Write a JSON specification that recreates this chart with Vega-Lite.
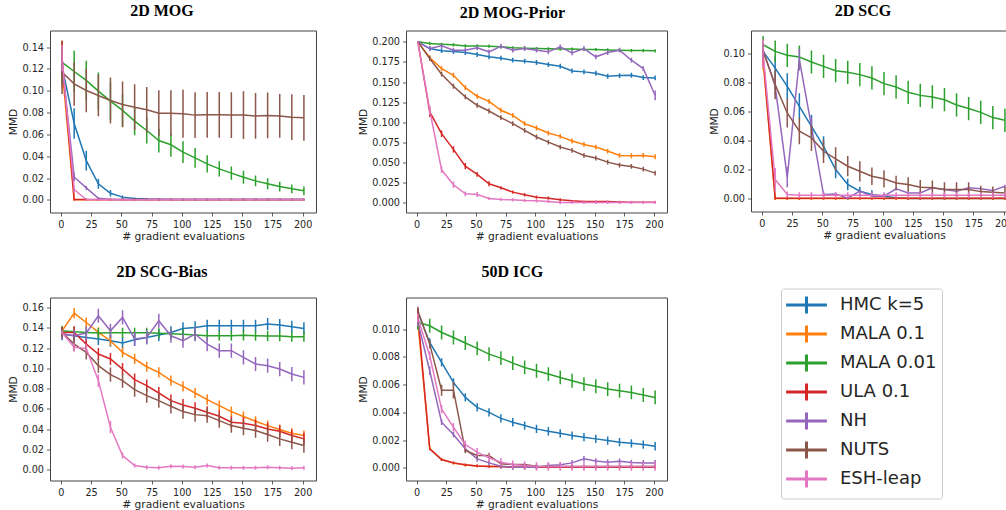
{
"$schema":"https://vega.github.io/schema/vega-lite/v6.json",
"padding":{"left":7,"top":1.5,"right":0,"bottom":0},
"background":"white",
"config":{
 "view":{"stroke":"#444","strokeWidth":1},
 "font":"DejaVu Sans",
 "title":{"font":"Liberation Serif","fontSize":16,"fontWeight":"bold","color":"black","anchor":"middle","frame":"bounds"},
 "axis":{"grid":false,"domain":false,"tickColor":"#333","tickSize":3.5,"tickWidth":0.8,"labelFont":"DejaVu Sans","labelFontSize":9.7,"labelColor":"#262626","labelPadding":3,"titleFont":"DejaVu Sans","titleFontSize":10.7,"titleFontWeight":"normal","titleColor":"#262626","titlePadding":3},
 "legend":{"orient":"none","legendX":731,"legendY":258,"title":null,"direction":"vertical","columns":1,"labelFont":"DejaVu Sans","labelFontSize":18,"labelColor":"#262626","symbolType":"M-2.04,0H2.04M0,-0.84V0.84","symbolSize":400,"symbolStrokeWidth":3,"symbolOffset":9,"labelOffset":22,"rowPadding":0,"padding":5,"strokeColor":"#ccc","fillColor":"white","cornerRadius":3}
},
"datasets":{
"mog":[
{"m":"HMC k=5","x":1,"y":0.122,"e":0.01},{"m":"HMC k=5","x":11,"y":0.07,"e":0.014},{"m":"HMC k=5","x":21,"y":0.036,"e":0.009},{"m":"HMC k=5","x":31,"y":0.0147,"e":0.0046},{"m":"HMC k=5","x":41,"y":0.006,"e":0.003},{"m":"HMC k=5","x":51,"y":0.0025,"e":0.0015},{"m":"HMC k=5","x":61,"y":0.0012,"e":0.001},{"m":"HMC k=5","x":71,"y":0.0007,"e":0.0008},{"m":"HMC k=5","x":81,"y":0.0005,"e":0.0008},{"m":"HMC k=5","x":91,"y":0.0004,"e":0.0008},{"m":"HMC k=5","x":101,"y":0.0003,"e":0.0008},{"m":"HMC k=5","x":111,"y":0.0003,"e":0.0008},{"m":"HMC k=5","x":121,"y":0.0003,"e":0.0008},{"m":"HMC k=5","x":131,"y":0.0003,"e":0.0008},{"m":"HMC k=5","x":141,"y":0.0003,"e":0.0008},{"m":"HMC k=5","x":151,"y":0.0003,"e":0.0008},{"m":"HMC k=5","x":161,"y":0.0003,"e":0.0008},{"m":"HMC k=5","x":171,"y":0.0003,"e":0.0008},{"m":"HMC k=5","x":181,"y":0.0003,"e":0.0008},{"m":"HMC k=5","x":191,"y":0.0003,"e":0.0008},{"m":"HMC k=5","x":201,"y":0.0003,"e":0.0008},
{"m":"MALA 0.1","x":1,"y":0.12,"e":0.018},{"m":"MALA 0.1","x":11,"y":0.0001,"e":0.0005},{"m":"MALA 0.1","x":21,"y":0.0001,"e":0.0005},{"m":"MALA 0.1","x":31,"y":0.0001,"e":0.0005},{"m":"MALA 0.1","x":41,"y":0.0001,"e":0.0005},{"m":"MALA 0.1","x":51,"y":0.0001,"e":0.0005},{"m":"MALA 0.1","x":61,"y":0.0001,"e":0.0005},{"m":"MALA 0.1","x":71,"y":0.0001,"e":0.0005},{"m":"MALA 0.1","x":81,"y":0.0001,"e":0.0005},{"m":"MALA 0.1","x":91,"y":0.0001,"e":0.0005},{"m":"MALA 0.1","x":101,"y":0.0001,"e":0.0005},{"m":"MALA 0.1","x":111,"y":0.0001,"e":0.0005},{"m":"MALA 0.1","x":121,"y":0.0001,"e":0.0005},{"m":"MALA 0.1","x":131,"y":0.0001,"e":0.0005},{"m":"MALA 0.1","x":141,"y":0.0001,"e":0.0005},{"m":"MALA 0.1","x":151,"y":0.0001,"e":0.0005},{"m":"MALA 0.1","x":161,"y":0.0001,"e":0.0005},{"m":"MALA 0.1","x":171,"y":0.0001,"e":0.0005},{"m":"MALA 0.1","x":181,"y":0.0001,"e":0.0005},{"m":"MALA 0.1","x":191,"y":0.0001,"e":0.0005},{"m":"MALA 0.1","x":201,"y":0.0001,"e":0.0005},
{"m":"MALA 0.01","x":1,"y":0.126,"e":0.02},{"m":"MALA 0.01","x":11,"y":0.1177,"e":0.019},{"m":"MALA 0.01","x":21,"y":0.1095,"e":0.018},{"m":"MALA 0.01","x":31,"y":0.0997,"e":0.017},{"m":"MALA 0.01","x":41,"y":0.0905,"e":0.017},{"m":"MALA 0.01","x":51,"y":0.082,"e":0.015},{"m":"MALA 0.01","x":61,"y":0.0722,"e":0.013},{"m":"MALA 0.01","x":71,"y":0.0636,"e":0.012},{"m":"MALA 0.01","x":81,"y":0.0544,"e":0.011},{"m":"MALA 0.01","x":91,"y":0.0505,"e":0.011},{"m":"MALA 0.01","x":101,"y":0.0437,"e":0.01},{"m":"MALA 0.01","x":111,"y":0.0385,"e":0.009},{"m":"MALA 0.01","x":121,"y":0.033,"e":0.008},{"m":"MALA 0.01","x":131,"y":0.0284,"e":0.007},{"m":"MALA 0.01","x":141,"y":0.0245,"e":0.006},{"m":"MALA 0.01","x":151,"y":0.0208,"e":0.006},{"m":"MALA 0.01","x":161,"y":0.0174,"e":0.005},{"m":"MALA 0.01","x":171,"y":0.0147,"e":0.005},{"m":"MALA 0.01","x":181,"y":0.0122,"e":0.0045},{"m":"MALA 0.01","x":191,"y":0.0101,"e":0.004},{"m":"MALA 0.01","x":201,"y":0.0083,"e":0.004},
{"m":"ULA 0.1","x":1,"y":0.13,"e":0.016},{"m":"ULA 0.1","x":11,"y":0.0003,"e":0.001},{"m":"ULA 0.1","x":21,"y":0.0003,"e":0.001},{"m":"ULA 0.1","x":31,"y":0.0003,"e":0.001},{"m":"ULA 0.1","x":41,"y":0.0003,"e":0.001},{"m":"ULA 0.1","x":51,"y":0.0003,"e":0.001},{"m":"ULA 0.1","x":61,"y":0.0003,"e":0.001},{"m":"ULA 0.1","x":71,"y":0.0003,"e":0.001},{"m":"ULA 0.1","x":81,"y":0.0003,"e":0.001},{"m":"ULA 0.1","x":91,"y":0.0003,"e":0.001},{"m":"ULA 0.1","x":101,"y":0.0003,"e":0.001},{"m":"ULA 0.1","x":111,"y":0.0003,"e":0.001},{"m":"ULA 0.1","x":121,"y":0.0003,"e":0.001},{"m":"ULA 0.1","x":131,"y":0.0003,"e":0.001},{"m":"ULA 0.1","x":141,"y":0.0003,"e":0.001},{"m":"ULA 0.1","x":151,"y":0.0003,"e":0.001},{"m":"ULA 0.1","x":161,"y":0.0003,"e":0.001},{"m":"ULA 0.1","x":171,"y":0.0003,"e":0.001},{"m":"ULA 0.1","x":181,"y":0.0003,"e":0.001},{"m":"ULA 0.1","x":191,"y":0.0003,"e":0.001},{"m":"ULA 0.1","x":201,"y":0.0003,"e":0.001},
{"m":"NH","x":1,"y":0.125,"e":0.01},{"m":"NH","x":11,"y":0.021,"e":0.004},{"m":"NH","x":21,"y":0.011,"e":0.002},{"m":"NH","x":31,"y":0.0015,"e":0.001},{"m":"NH","x":41,"y":0.0003,"e":0.0005},{"m":"NH","x":51,"y":0.0003,"e":0.0005},{"m":"NH","x":61,"y":0.0003,"e":0.0005},{"m":"NH","x":71,"y":0.0003,"e":0.0005},{"m":"NH","x":81,"y":0.0003,"e":0.0005},{"m":"NH","x":91,"y":0.0003,"e":0.0005},{"m":"NH","x":101,"y":0.0003,"e":0.0005},{"m":"NH","x":111,"y":0.0003,"e":0.0005},{"m":"NH","x":121,"y":0.0003,"e":0.0005},{"m":"NH","x":131,"y":0.0003,"e":0.0005},{"m":"NH","x":141,"y":0.0003,"e":0.0005},{"m":"NH","x":151,"y":0.0003,"e":0.0005},{"m":"NH","x":161,"y":0.0003,"e":0.0005},{"m":"NH","x":171,"y":0.0003,"e":0.0005},{"m":"NH","x":181,"y":0.0003,"e":0.0005},{"m":"NH","x":191,"y":0.0003,"e":0.0005},{"m":"NH","x":201,"y":0.0003,"e":0.0005},
{"m":"NUTS","x":1,"y":0.117,"e":0.02},{"m":"NUTS","x":11,"y":0.1064,"e":0.02},{"m":"NUTS","x":21,"y":0.1003,"e":0.02},{"m":"NUTS","x":31,"y":0.0957,"e":0.019},{"m":"NUTS","x":41,"y":0.0911,"e":0.021},{"m":"NUTS","x":51,"y":0.0875,"e":0.021},{"m":"NUTS","x":61,"y":0.085,"e":0.021},{"m":"NUTS","x":71,"y":0.0826,"e":0.021},{"m":"NUTS","x":81,"y":0.0795,"e":0.021},{"m":"NUTS","x":91,"y":0.0795,"e":0.021},{"m":"NUTS","x":101,"y":0.0789,"e":0.022},{"m":"NUTS","x":111,"y":0.0777,"e":0.021},{"m":"NUTS","x":121,"y":0.078,"e":0.021},{"m":"NUTS","x":131,"y":0.078,"e":0.021},{"m":"NUTS","x":141,"y":0.0777,"e":0.021},{"m":"NUTS","x":151,"y":0.0777,"e":0.022},{"m":"NUTS","x":161,"y":0.077,"e":0.021},{"m":"NUTS","x":171,"y":0.0774,"e":0.021},{"m":"NUTS","x":181,"y":0.077,"e":0.02},{"m":"NUTS","x":191,"y":0.0758,"e":0.021},{"m":"NUTS","x":201,"y":0.0752,"e":0.021},
{"m":"ESH-leap","x":1,"y":0.13,"e":0.012},{"m":"ESH-leap","x":11,"y":0.0095,"e":0.003},{"m":"ESH-leap","x":21,"y":0.0003,"e":0.001},{"m":"ESH-leap","x":31,"y":0.0001,"e":0.0008},{"m":"ESH-leap","x":41,"y":0.0001,"e":0.0008},{"m":"ESH-leap","x":51,"y":0.0001,"e":0.0008},{"m":"ESH-leap","x":61,"y":0.0001,"e":0.0008},{"m":"ESH-leap","x":71,"y":0.0001,"e":0.0008},{"m":"ESH-leap","x":81,"y":0.0001,"e":0.0008},{"m":"ESH-leap","x":91,"y":0.0001,"e":0.0008},{"m":"ESH-leap","x":101,"y":0.0001,"e":0.0008},{"m":"ESH-leap","x":111,"y":0.0001,"e":0.0008},{"m":"ESH-leap","x":121,"y":0.0001,"e":0.0008},{"m":"ESH-leap","x":131,"y":0.0001,"e":0.0008},{"m":"ESH-leap","x":141,"y":0.0001,"e":0.0008},{"m":"ESH-leap","x":151,"y":0.0001,"e":0.0008},{"m":"ESH-leap","x":161,"y":0.0001,"e":0.0008},{"m":"ESH-leap","x":171,"y":0.0001,"e":0.0008},{"m":"ESH-leap","x":181,"y":0.0001,"e":0.0008},{"m":"ESH-leap","x":191,"y":0.0001,"e":0.0008},{"m":"ESH-leap","x":201,"y":0.0001,"e":0.0008}
],
"prior":[
{"m":"HMC k=5","x":1,"y":0.2,"e":0.001},{"m":"HMC k=5","x":11,"y":0.1917,"e":0.003},{"m":"HMC k=5","x":21,"y":0.189,"e":0.003},{"m":"HMC k=5","x":31,"y":0.188,"e":0.003},{"m":"HMC k=5","x":41,"y":0.1868,"e":0.003},{"m":"HMC k=5","x":51,"y":0.1843,"e":0.003},{"m":"HMC k=5","x":61,"y":0.1814,"e":0.003},{"m":"HMC k=5","x":71,"y":0.1797,"e":0.003},{"m":"HMC k=5","x":81,"y":0.1772,"e":0.003},{"m":"HMC k=5","x":91,"y":0.176,"e":0.003},{"m":"HMC k=5","x":101,"y":0.1743,"e":0.003},{"m":"HMC k=5","x":111,"y":0.1718,"e":0.003},{"m":"HMC k=5","x":121,"y":0.1697,"e":0.003},{"m":"HMC k=5","x":131,"y":0.1639,"e":0.003},{"m":"HMC k=5","x":141,"y":0.1627,"e":0.003},{"m":"HMC k=5","x":151,"y":0.161,"e":0.003},{"m":"HMC k=5","x":161,"y":0.1573,"e":0.003},{"m":"HMC k=5","x":171,"y":0.1581,"e":0.003},{"m":"HMC k=5","x":181,"y":0.1585,"e":0.003},{"m":"HMC k=5","x":191,"y":0.1556,"e":0.003},{"m":"HMC k=5","x":201,"y":0.1552,"e":0.003},
{"m":"MALA 0.1","x":1,"y":0.2,"e":0.001},{"m":"MALA 0.1","x":11,"y":0.1805,"e":0.003},{"m":"MALA 0.1","x":21,"y":0.1668,"e":0.003},{"m":"MALA 0.1","x":31,"y":0.1585,"e":0.003},{"m":"MALA 0.1","x":41,"y":0.1432,"e":0.003},{"m":"MALA 0.1","x":51,"y":0.1324,"e":0.003},{"m":"MALA 0.1","x":61,"y":0.1261,"e":0.003},{"m":"MALA 0.1","x":71,"y":0.115,"e":0.003},{"m":"MALA 0.1","x":81,"y":0.1087,"e":0.003},{"m":"MALA 0.1","x":91,"y":0.0984,"e":0.003},{"m":"MALA 0.1","x":101,"y":0.093,"e":0.003},{"m":"MALA 0.1","x":111,"y":0.0867,"e":0.003},{"m":"MALA 0.1","x":121,"y":0.0826,"e":0.003},{"m":"MALA 0.1","x":131,"y":0.0768,"e":0.003},{"m":"MALA 0.1","x":141,"y":0.0726,"e":0.003},{"m":"MALA 0.1","x":151,"y":0.0693,"e":0.003},{"m":"MALA 0.1","x":161,"y":0.0643,"e":0.003},{"m":"MALA 0.1","x":171,"y":0.0589,"e":0.003},{"m":"MALA 0.1","x":181,"y":0.0585,"e":0.003},{"m":"MALA 0.1","x":191,"y":0.0589,"e":0.003},{"m":"MALA 0.1","x":201,"y":0.0573,"e":0.003},
{"m":"MALA 0.01","x":1,"y":0.2,"e":0.001},{"m":"MALA 0.01","x":11,"y":0.198,"e":0.002},{"m":"MALA 0.01","x":21,"y":0.197,"e":0.002},{"m":"MALA 0.01","x":31,"y":0.1963,"e":0.002},{"m":"MALA 0.01","x":41,"y":0.195,"e":0.002},{"m":"MALA 0.01","x":51,"y":0.195,"e":0.002},{"m":"MALA 0.01","x":61,"y":0.1946,"e":0.002},{"m":"MALA 0.01","x":71,"y":0.1938,"e":0.002},{"m":"MALA 0.01","x":81,"y":0.1926,"e":0.002},{"m":"MALA 0.01","x":91,"y":0.1921,"e":0.002},{"m":"MALA 0.01","x":101,"y":0.1917,"e":0.002},{"m":"MALA 0.01","x":111,"y":0.1913,"e":0.002},{"m":"MALA 0.01","x":121,"y":0.191,"e":0.002},{"m":"MALA 0.01","x":131,"y":0.191,"e":0.002},{"m":"MALA 0.01","x":141,"y":0.1905,"e":0.002},{"m":"MALA 0.01","x":151,"y":0.1905,"e":0.002},{"m":"MALA 0.01","x":161,"y":0.19,"e":0.002},{"m":"MALA 0.01","x":171,"y":0.1897,"e":0.002},{"m":"MALA 0.01","x":181,"y":0.1892,"e":0.002},{"m":"MALA 0.01","x":191,"y":0.1892,"e":0.002},{"m":"MALA 0.01","x":201,"y":0.1888,"e":0.002},
{"m":"ULA 0.1","x":1,"y":0.2,"e":0.001},{"m":"ULA 0.1","x":11,"y":0.1129,"e":0.006},{"m":"ULA 0.1","x":21,"y":0.0859,"e":0.004},{"m":"ULA 0.1","x":31,"y":0.0664,"e":0.004},{"m":"ULA 0.1","x":41,"y":0.0456,"e":0.004},{"m":"ULA 0.1","x":51,"y":0.0353,"e":0.003},{"m":"ULA 0.1","x":61,"y":0.0237,"e":0.003},{"m":"ULA 0.1","x":71,"y":0.0187,"e":0.002},{"m":"ULA 0.1","x":81,"y":0.0133,"e":0.002},{"m":"ULA 0.1","x":91,"y":0.01,"e":0.002},{"m":"ULA 0.1","x":101,"y":0.007,"e":0.002},{"m":"ULA 0.1","x":111,"y":0.0058,"e":0.002},{"m":"ULA 0.1","x":121,"y":0.0037,"e":0.002},{"m":"ULA 0.1","x":131,"y":0.0025,"e":0.001},{"m":"ULA 0.1","x":141,"y":0.0017,"e":0.001},{"m":"ULA 0.1","x":151,"y":0.0017,"e":0.001},{"m":"ULA 0.1","x":161,"y":0.0017,"e":0.001},{"m":"ULA 0.1","x":171,"y":0.0012,"e":0.001},{"m":"ULA 0.1","x":181,"y":0.0008,"e":0.001},{"m":"ULA 0.1","x":191,"y":0.0008,"e":0.001},{"m":"ULA 0.1","x":201,"y":0.0008,"e":0.001},
{"m":"NH","x":1,"y":0.2,"e":0.001},{"m":"NH","x":11,"y":0.1917,"e":0.003},{"m":"NH","x":21,"y":0.195,"e":0.003},{"m":"NH","x":31,"y":0.1897,"e":0.003},{"m":"NH","x":41,"y":0.1897,"e":0.003},{"m":"NH","x":51,"y":0.1926,"e":0.003},{"m":"NH","x":61,"y":0.1876,"e":0.003},{"m":"NH","x":71,"y":0.1946,"e":0.003},{"m":"NH","x":81,"y":0.1897,"e":0.003},{"m":"NH","x":91,"y":0.1917,"e":0.003},{"m":"NH","x":101,"y":0.1897,"e":0.003},{"m":"NH","x":111,"y":0.1876,"e":0.003},{"m":"NH","x":121,"y":0.1938,"e":0.003},{"m":"NH","x":131,"y":0.1863,"e":0.003},{"m":"NH","x":141,"y":0.1917,"e":0.003},{"m":"NH","x":151,"y":0.1814,"e":0.003},{"m":"NH","x":161,"y":0.1868,"e":0.003},{"m":"NH","x":171,"y":0.1897,"e":0.003},{"m":"NH","x":181,"y":0.1772,"e":0.003},{"m":"NH","x":191,"y":0.1668,"e":0.003},{"m":"NH","x":201,"y":0.1336,"e":0.006},
{"m":"NUTS","x":1,"y":0.2,"e":0.001},{"m":"NUTS","x":11,"y":0.1793,"e":0.003},{"m":"NUTS","x":21,"y":0.1598,"e":0.003},{"m":"NUTS","x":31,"y":0.1448,"e":0.003},{"m":"NUTS","x":41,"y":0.1316,"e":0.003},{"m":"NUTS","x":51,"y":0.1212,"e":0.003},{"m":"NUTS","x":61,"y":0.1141,"e":0.003},{"m":"NUTS","x":71,"y":0.1058,"e":0.003},{"m":"NUTS","x":81,"y":0.0984,"e":0.003},{"m":"NUTS","x":91,"y":0.09,"e":0.003},{"m":"NUTS","x":101,"y":0.0818,"e":0.003},{"m":"NUTS","x":111,"y":0.0755,"e":0.003},{"m":"NUTS","x":121,"y":0.0693,"e":0.003},{"m":"NUTS","x":131,"y":0.0652,"e":0.003},{"m":"NUTS","x":141,"y":0.0589,"e":0.003},{"m":"NUTS","x":151,"y":0.0556,"e":0.003},{"m":"NUTS","x":161,"y":0.0506,"e":0.003},{"m":"NUTS","x":171,"y":0.0469,"e":0.003},{"m":"NUTS","x":181,"y":0.0452,"e":0.003},{"m":"NUTS","x":191,"y":0.0419,"e":0.003},{"m":"NUTS","x":201,"y":0.0369,"e":0.003},
{"m":"ESH-leap","x":1,"y":0.2,"e":0.001},{"m":"ESH-leap","x":11,"y":0.115,"e":0.006},{"m":"ESH-leap","x":21,"y":0.041,"e":0.004},{"m":"ESH-leap","x":31,"y":0.0224,"e":0.004},{"m":"ESH-leap","x":41,"y":0.0112,"e":0.003},{"m":"ESH-leap","x":51,"y":0.0104,"e":0.003},{"m":"ESH-leap","x":61,"y":0.0054,"e":0.002},{"m":"ESH-leap","x":71,"y":0.0042,"e":0.002},{"m":"ESH-leap","x":81,"y":0.0037,"e":0.002},{"m":"ESH-leap","x":91,"y":0.0029,"e":0.002},{"m":"ESH-leap","x":101,"y":0.0025,"e":0.002},{"m":"ESH-leap","x":111,"y":0.0017,"e":0.002},{"m":"ESH-leap","x":121,"y":0.0004,"e":0.002},{"m":"ESH-leap","x":131,"y":0.0005,"e":0.002},{"m":"ESH-leap","x":141,"y":0.0005,"e":0.002},{"m":"ESH-leap","x":151,"y":0.0005,"e":0.002},{"m":"ESH-leap","x":161,"y":0.0005,"e":0.002},{"m":"ESH-leap","x":171,"y":0.0005,"e":0.002},{"m":"ESH-leap","x":181,"y":0.0005,"e":0.002},{"m":"ESH-leap","x":191,"y":0.0005,"e":0.002},{"m":"ESH-leap","x":201,"y":0.0005,"e":0.002}
],
"scg":[
{"m":"HMC k=5","x":1,"y":0.1016,"e":0.005},{"m":"HMC k=5","x":11,"y":0.0901,"e":0.008},{"m":"HMC k=5","x":21,"y":0.0775,"e":0.009},{"m":"HMC k=5","x":31,"y":0.0638,"e":0.009},{"m":"HMC k=5","x":41,"y":0.05,"e":0.008},{"m":"HMC k=5","x":51,"y":0.0362,"e":0.007},{"m":"HMC k=5","x":61,"y":0.0202,"e":0.006},{"m":"HMC k=5","x":71,"y":0.0099,"e":0.004},{"m":"HMC k=5","x":81,"y":0.0053,"e":0.003},{"m":"HMC k=5","x":91,"y":0.003,"e":0.003},{"m":"HMC k=5","x":101,"y":0.0018,"e":0.002},{"m":"HMC k=5","x":111,"y":0.0007,"e":0.001},{"m":"HMC k=5","x":121,"y":0.0003,"e":0.001},{"m":"HMC k=5","x":131,"y":0.0003,"e":0.001},{"m":"HMC k=5","x":141,"y":0.0003,"e":0.001},{"m":"HMC k=5","x":151,"y":0.0003,"e":0.001},{"m":"HMC k=5","x":161,"y":0.0003,"e":0.001},{"m":"HMC k=5","x":171,"y":0.0003,"e":0.001},{"m":"HMC k=5","x":181,"y":0.0003,"e":0.001},{"m":"HMC k=5","x":191,"y":0.0003,"e":0.001},{"m":"HMC k=5","x":201,"y":0.0003,"e":0.001},
{"m":"MALA 0.1","x":1,"y":0.095,"e":0.006},{"m":"MALA 0.1","x":11,"y":0.0003,"e":0.001},{"m":"MALA 0.1","x":21,"y":0.0003,"e":0.001},{"m":"MALA 0.1","x":31,"y":0.0003,"e":0.001},{"m":"MALA 0.1","x":41,"y":0.0003,"e":0.001},{"m":"MALA 0.1","x":51,"y":0.0003,"e":0.001},{"m":"MALA 0.1","x":61,"y":0.0003,"e":0.001},{"m":"MALA 0.1","x":71,"y":0.0003,"e":0.001},{"m":"MALA 0.1","x":81,"y":0.0003,"e":0.001},{"m":"MALA 0.1","x":91,"y":0.0003,"e":0.001},{"m":"MALA 0.1","x":101,"y":0.0003,"e":0.001},{"m":"MALA 0.1","x":111,"y":0.0003,"e":0.001},{"m":"MALA 0.1","x":121,"y":0.0003,"e":0.001},{"m":"MALA 0.1","x":131,"y":0.0003,"e":0.001},{"m":"MALA 0.1","x":141,"y":0.0003,"e":0.001},{"m":"MALA 0.1","x":151,"y":0.0003,"e":0.001},{"m":"MALA 0.1","x":161,"y":0.0003,"e":0.001},{"m":"MALA 0.1","x":171,"y":0.0003,"e":0.001},{"m":"MALA 0.1","x":181,"y":0.0003,"e":0.001},{"m":"MALA 0.1","x":191,"y":0.0003,"e":0.001},{"m":"MALA 0.1","x":201,"y":0.0003,"e":0.001},
{"m":"MALA 0.01","x":1,"y":0.1062,"e":0.006},{"m":"MALA 0.01","x":11,"y":0.1016,"e":0.0075},{"m":"MALA 0.01","x":21,"y":0.0989,"e":0.008},{"m":"MALA 0.01","x":31,"y":0.0977,"e":0.008},{"m":"MALA 0.01","x":41,"y":0.0943,"e":0.008},{"m":"MALA 0.01","x":51,"y":0.0913,"e":0.008},{"m":"MALA 0.01","x":61,"y":0.0883,"e":0.008},{"m":"MALA 0.01","x":71,"y":0.0872,"e":0.008},{"m":"MALA 0.01","x":81,"y":0.0856,"e":0.008},{"m":"MALA 0.01","x":91,"y":0.0833,"e":0.008},{"m":"MALA 0.01","x":101,"y":0.0794,"e":0.008},{"m":"MALA 0.01","x":111,"y":0.0771,"e":0.008},{"m":"MALA 0.01","x":121,"y":0.0734,"e":0.008},{"m":"MALA 0.01","x":131,"y":0.0713,"e":0.008},{"m":"MALA 0.01","x":141,"y":0.0702,"e":0.008},{"m":"MALA 0.01","x":151,"y":0.0683,"e":0.008},{"m":"MALA 0.01","x":161,"y":0.0647,"e":0.008},{"m":"MALA 0.01","x":171,"y":0.0622,"e":0.008},{"m":"MALA 0.01","x":181,"y":0.0596,"e":0.008},{"m":"MALA 0.01","x":191,"y":0.056,"e":0.008},{"m":"MALA 0.01","x":201,"y":0.0541,"e":0.008},
{"m":"ULA 0.1","x":1,"y":0.098,"e":0.006},{"m":"ULA 0.1","x":11,"y":0.0005,"e":0.001},{"m":"ULA 0.1","x":21,"y":0.0005,"e":0.001},{"m":"ULA 0.1","x":31,"y":0.0005,"e":0.001},{"m":"ULA 0.1","x":41,"y":0.0005,"e":0.001},{"m":"ULA 0.1","x":51,"y":0.0005,"e":0.001},{"m":"ULA 0.1","x":61,"y":0.0005,"e":0.001},{"m":"ULA 0.1","x":71,"y":0.0005,"e":0.001},{"m":"ULA 0.1","x":81,"y":0.0005,"e":0.001},{"m":"ULA 0.1","x":91,"y":0.0005,"e":0.001},{"m":"ULA 0.1","x":101,"y":0.0005,"e":0.001},{"m":"ULA 0.1","x":111,"y":0.0005,"e":0.001},{"m":"ULA 0.1","x":121,"y":0.0005,"e":0.001},{"m":"ULA 0.1","x":131,"y":0.0005,"e":0.001},{"m":"ULA 0.1","x":141,"y":0.0005,"e":0.001},{"m":"ULA 0.1","x":151,"y":0.0005,"e":0.001},{"m":"ULA 0.1","x":161,"y":0.0005,"e":0.001},{"m":"ULA 0.1","x":171,"y":0.0005,"e":0.001},{"m":"ULA 0.1","x":181,"y":0.0005,"e":0.001},{"m":"ULA 0.1","x":191,"y":0.0005,"e":0.001},{"m":"ULA 0.1","x":201,"y":0.0005,"e":0.001},
{"m":"NH","x":1,"y":0.103,"e":0.005},{"m":"NH","x":11,"y":0.0775,"e":0.006},{"m":"NH","x":21,"y":0.015,"e":0.007},{"m":"NH","x":31,"y":0.096,"e":0.0075},{"m":"NH","x":41,"y":0.05,"e":0.006},{"m":"NH","x":51,"y":0.003,"e":0.002},{"m":"NH","x":61,"y":0.0034,"e":0.001},{"m":"NH","x":71,"y":0.0005,"e":0.001},{"m":"NH","x":81,"y":0.0053,"e":0.001},{"m":"NH","x":91,"y":0.0018,"e":0.001},{"m":"NH","x":101,"y":0.0018,"e":0.001},{"m":"NH","x":111,"y":0.0069,"e":0.001},{"m":"NH","x":121,"y":0.0041,"e":0.001},{"m":"NH","x":131,"y":0.0041,"e":0.001},{"m":"NH","x":141,"y":0.0076,"e":0.001},{"m":"NH","x":151,"y":0.0064,"e":0.001},{"m":"NH","x":161,"y":0.0053,"e":0.001},{"m":"NH","x":171,"y":0.0076,"e":0.001},{"m":"NH","x":181,"y":0.0069,"e":0.001},{"m":"NH","x":191,"y":0.0057,"e":0.001},{"m":"NH","x":201,"y":0.0087,"e":0.001},
{"m":"NUTS","x":1,"y":0.1016,"e":0.005},{"m":"NUTS","x":11,"y":0.0787,"e":0.01},{"m":"NUTS","x":21,"y":0.0592,"e":0.01},{"m":"NUTS","x":31,"y":0.0466,"e":0.009},{"m":"NUTS","x":41,"y":0.042,"e":0.009},{"m":"NUTS","x":51,"y":0.0328,"e":0.008},{"m":"NUTS","x":61,"y":0.0275,"e":0.008},{"m":"NUTS","x":71,"y":0.0225,"e":0.007},{"m":"NUTS","x":81,"y":0.019,"e":0.007},{"m":"NUTS","x":91,"y":0.0156,"e":0.006},{"m":"NUTS","x":101,"y":0.0138,"e":0.006},{"m":"NUTS","x":111,"y":0.011,"e":0.005},{"m":"NUTS","x":121,"y":0.0099,"e":0.005},{"m":"NUTS","x":131,"y":0.008,"e":0.005},{"m":"NUTS","x":141,"y":0.0076,"e":0.005},{"m":"NUTS","x":151,"y":0.0064,"e":0.005},{"m":"NUTS","x":161,"y":0.0064,"e":0.005},{"m":"NUTS","x":171,"y":0.0064,"e":0.005},{"m":"NUTS","x":181,"y":0.005,"e":0.004},{"m":"NUTS","x":191,"y":0.0046,"e":0.004},{"m":"NUTS","x":201,"y":0.0041,"e":0.004},
{"m":"ESH-leap","x":1,"y":0.1,"e":0.01},{"m":"ESH-leap","x":11,"y":0.0133,"e":0.008},{"m":"ESH-leap","x":21,"y":0.003,"e":0.002},{"m":"ESH-leap","x":31,"y":0.0025,"e":0.002},{"m":"ESH-leap","x":41,"y":0.0025,"e":0.002},{"m":"ESH-leap","x":51,"y":0.0025,"e":0.002},{"m":"ESH-leap","x":61,"y":0.0025,"e":0.002},{"m":"ESH-leap","x":71,"y":0.0025,"e":0.002},{"m":"ESH-leap","x":81,"y":0.0025,"e":0.002},{"m":"ESH-leap","x":91,"y":0.0025,"e":0.002},{"m":"ESH-leap","x":101,"y":0.0025,"e":0.002},{"m":"ESH-leap","x":111,"y":0.0025,"e":0.002},{"m":"ESH-leap","x":121,"y":0.0025,"e":0.002},{"m":"ESH-leap","x":131,"y":0.0025,"e":0.002},{"m":"ESH-leap","x":141,"y":0.0025,"e":0.002},{"m":"ESH-leap","x":151,"y":0.0025,"e":0.002},{"m":"ESH-leap","x":161,"y":0.0025,"e":0.002},{"m":"ESH-leap","x":171,"y":0.0025,"e":0.002},{"m":"ESH-leap","x":181,"y":0.0025,"e":0.002},{"m":"ESH-leap","x":191,"y":0.0025,"e":0.002},{"m":"ESH-leap","x":201,"y":0.0025,"e":0.002}
],
"bias":[
{"m":"HMC k=5","x":1,"y":0.1338,"e":0.006},{"m":"HMC k=5","x":11,"y":0.1321,"e":0.006},{"m":"HMC k=5","x":21,"y":0.1305,"e":0.006},{"m":"HMC k=5","x":31,"y":0.1289,"e":0.006},{"m":"HMC k=5","x":41,"y":0.1272,"e":0.006},{"m":"HMC k=5","x":51,"y":0.1249,"e":0.006},{"m":"HMC k=5","x":61,"y":0.1282,"e":0.006},{"m":"HMC k=5","x":71,"y":0.1305,"e":0.006},{"m":"HMC k=5","x":81,"y":0.1328,"e":0.006},{"m":"HMC k=5","x":91,"y":0.1354,"e":0.006},{"m":"HMC k=5","x":101,"y":0.1393,"e":0.006},{"m":"HMC k=5","x":111,"y":0.1403,"e":0.006},{"m":"HMC k=5","x":121,"y":0.142,"e":0.006},{"m":"HMC k=5","x":131,"y":0.142,"e":0.006},{"m":"HMC k=5","x":141,"y":0.142,"e":0.006},{"m":"HMC k=5","x":151,"y":0.142,"e":0.006},{"m":"HMC k=5","x":161,"y":0.142,"e":0.006},{"m":"HMC k=5","x":171,"y":0.1436,"e":0.006},{"m":"HMC k=5","x":181,"y":0.1426,"e":0.006},{"m":"HMC k=5","x":191,"y":0.141,"e":0.006},{"m":"HMC k=5","x":201,"y":0.1393,"e":0.006},
{"m":"MALA 0.1","x":1,"y":0.137,"e":0.004},{"m":"MALA 0.1","x":11,"y":0.1544,"e":0.005},{"m":"MALA 0.1","x":21,"y":0.1452,"e":0.005},{"m":"MALA 0.1","x":31,"y":0.1354,"e":0.005},{"m":"MALA 0.1","x":41,"y":0.1272,"e":0.005},{"m":"MALA 0.1","x":51,"y":0.1157,"e":0.005},{"m":"MALA 0.1","x":61,"y":0.1092,"e":0.005},{"m":"MALA 0.1","x":71,"y":0.1016,"e":0.005},{"m":"MALA 0.1","x":81,"y":0.0961,"e":0.005},{"m":"MALA 0.1","x":91,"y":0.0879,"e":0.005},{"m":"MALA 0.1","x":101,"y":0.0823,"e":0.005},{"m":"MALA 0.1","x":111,"y":0.0757,"e":0.005},{"m":"MALA 0.1","x":121,"y":0.0692,"e":0.005},{"m":"MALA 0.1","x":131,"y":0.0633,"e":0.005},{"m":"MALA 0.1","x":141,"y":0.0574,"e":0.005},{"m":"MALA 0.1","x":151,"y":0.0525,"e":0.005},{"m":"MALA 0.1","x":161,"y":0.0479,"e":0.005},{"m":"MALA 0.1","x":171,"y":0.0436,"e":0.005},{"m":"MALA 0.1","x":181,"y":0.0397,"e":0.005},{"m":"MALA 0.1","x":191,"y":0.0361,"e":0.005},{"m":"MALA 0.1","x":201,"y":0.0338,"e":0.005},
{"m":"MALA 0.01","x":1,"y":0.137,"e":0.005},{"m":"MALA 0.01","x":11,"y":0.136,"e":0.005},{"m":"MALA 0.01","x":21,"y":0.1354,"e":0.005},{"m":"MALA 0.01","x":31,"y":0.1348,"e":0.005},{"m":"MALA 0.01","x":41,"y":0.135,"e":0.005},{"m":"MALA 0.01","x":51,"y":0.135,"e":0.005},{"m":"MALA 0.01","x":61,"y":0.135,"e":0.005},{"m":"MALA 0.01","x":71,"y":0.135,"e":0.005},{"m":"MALA 0.01","x":81,"y":0.1345,"e":0.005},{"m":"MALA 0.01","x":91,"y":0.1341,"e":0.005},{"m":"MALA 0.01","x":101,"y":0.1335,"e":0.005},{"m":"MALA 0.01","x":111,"y":0.1328,"e":0.005},{"m":"MALA 0.01","x":121,"y":0.1321,"e":0.005},{"m":"MALA 0.01","x":131,"y":0.1321,"e":0.005},{"m":"MALA 0.01","x":141,"y":0.1321,"e":0.005},{"m":"MALA 0.01","x":151,"y":0.1325,"e":0.005},{"m":"MALA 0.01","x":161,"y":0.1321,"e":0.005},{"m":"MALA 0.01","x":171,"y":0.1318,"e":0.005},{"m":"MALA 0.01","x":181,"y":0.1318,"e":0.005},{"m":"MALA 0.01","x":191,"y":0.1311,"e":0.005},{"m":"MALA 0.01","x":201,"y":0.1311,"e":0.005},
{"m":"ULA 0.1","x":1,"y":0.1354,"e":0.005},{"m":"ULA 0.1","x":11,"y":0.1354,"e":0.006},{"m":"ULA 0.1","x":21,"y":0.1239,"e":0.006},{"m":"ULA 0.1","x":31,"y":0.1141,"e":0.006},{"m":"ULA 0.1","x":41,"y":0.1092,"e":0.006},{"m":"ULA 0.1","x":51,"y":0.0993,"e":0.006},{"m":"ULA 0.1","x":61,"y":0.0889,"e":0.006},{"m":"ULA 0.1","x":71,"y":0.083,"e":0.006},{"m":"ULA 0.1","x":81,"y":0.0757,"e":0.006},{"m":"ULA 0.1","x":91,"y":0.0682,"e":0.006},{"m":"ULA 0.1","x":101,"y":0.0639,"e":0.006},{"m":"ULA 0.1","x":111,"y":0.0607,"e":0.006},{"m":"ULA 0.1","x":121,"y":0.0567,"e":0.006},{"m":"ULA 0.1","x":131,"y":0.0528,"e":0.006},{"m":"ULA 0.1","x":141,"y":0.0469,"e":0.006},{"m":"ULA 0.1","x":151,"y":0.0459,"e":0.006},{"m":"ULA 0.1","x":161,"y":0.0436,"e":0.006},{"m":"ULA 0.1","x":171,"y":0.0403,"e":0.006},{"m":"ULA 0.1","x":181,"y":0.038,"e":0.006},{"m":"ULA 0.1","x":191,"y":0.0338,"e":0.006},{"m":"ULA 0.1","x":201,"y":0.0305,"e":0.006},
{"m":"NH","x":1,"y":0.1338,"e":0.005},{"m":"NH","x":11,"y":0.1321,"e":0.006},{"m":"NH","x":21,"y":0.1348,"e":0.007},{"m":"NH","x":31,"y":0.1518,"e":0.007},{"m":"NH","x":41,"y":0.137,"e":0.007},{"m":"NH","x":51,"y":0.1502,"e":0.007},{"m":"NH","x":61,"y":0.1289,"e":0.007},{"m":"NH","x":71,"y":0.1305,"e":0.007},{"m":"NH","x":81,"y":0.1469,"e":0.007},{"m":"NH","x":91,"y":0.1321,"e":0.007},{"m":"NH","x":101,"y":0.1272,"e":0.007},{"m":"NH","x":111,"y":0.1338,"e":0.007},{"m":"NH","x":121,"y":0.1239,"e":0.007},{"m":"NH","x":131,"y":0.1174,"e":0.007},{"m":"NH","x":141,"y":0.1174,"e":0.007},{"m":"NH","x":151,"y":0.1108,"e":0.007},{"m":"NH","x":161,"y":0.1043,"e":0.007},{"m":"NH","x":171,"y":0.1026,"e":0.007},{"m":"NH","x":181,"y":0.0993,"e":0.007},{"m":"NH","x":191,"y":0.0944,"e":0.007},{"m":"NH","x":201,"y":0.0911,"e":0.007},
{"m":"NUTS","x":1,"y":0.1354,"e":0.005},{"m":"NUTS","x":11,"y":0.1239,"e":0.007},{"m":"NUTS","x":21,"y":0.1157,"e":0.007},{"m":"NUTS","x":31,"y":0.1026,"e":0.007},{"m":"NUTS","x":41,"y":0.0938,"e":0.007},{"m":"NUTS","x":51,"y":0.0879,"e":0.007},{"m":"NUTS","x":61,"y":0.079,"e":0.007},{"m":"NUTS","x":71,"y":0.0731,"e":0.007},{"m":"NUTS","x":81,"y":0.0682,"e":0.007},{"m":"NUTS","x":91,"y":0.0626,"e":0.007},{"m":"NUTS","x":101,"y":0.0574,"e":0.007},{"m":"NUTS","x":111,"y":0.0544,"e":0.007},{"m":"NUTS","x":121,"y":0.0534,"e":0.007},{"m":"NUTS","x":131,"y":0.0485,"e":0.007},{"m":"NUTS","x":141,"y":0.0436,"e":0.007},{"m":"NUTS","x":151,"y":0.041,"e":0.007},{"m":"NUTS","x":161,"y":0.0387,"e":0.007},{"m":"NUTS","x":171,"y":0.0348,"e":0.007},{"m":"NUTS","x":181,"y":0.0305,"e":0.007},{"m":"NUTS","x":191,"y":0.0272,"e":0.007},{"m":"NUTS","x":201,"y":0.0239,"e":0.007},
{"m":"ESH-leap","x":1,"y":0.1354,"e":0.002},{"m":"ESH-leap","x":11,"y":0.1207,"e":0.004},{"m":"ESH-leap","x":21,"y":0.1197,"e":0.004},{"m":"ESH-leap","x":31,"y":0.0879,"e":0.006},{"m":"ESH-leap","x":41,"y":0.042,"e":0.006},{"m":"ESH-leap","x":51,"y":0.0141,"e":0.003},{"m":"ESH-leap","x":61,"y":0.0043,"e":0.002},{"m":"ESH-leap","x":71,"y":0.0026,"e":0.002},{"m":"ESH-leap","x":81,"y":0.002,"e":0.002},{"m":"ESH-leap","x":91,"y":0.0036,"e":0.002},{"m":"ESH-leap","x":101,"y":0.0033,"e":0.002},{"m":"ESH-leap","x":111,"y":0.0026,"e":0.002},{"m":"ESH-leap","x":121,"y":0.0043,"e":0.002},{"m":"ESH-leap","x":131,"y":0.002,"e":0.002},{"m":"ESH-leap","x":141,"y":0.002,"e":0.002},{"m":"ESH-leap","x":151,"y":0.002,"e":0.002},{"m":"ESH-leap","x":161,"y":0.002,"e":0.002},{"m":"ESH-leap","x":171,"y":0.0026,"e":0.002},{"m":"ESH-leap","x":181,"y":0.002,"e":0.002},{"m":"ESH-leap","x":191,"y":0.0016,"e":0.002},{"m":"ESH-leap","x":201,"y":0.002,"e":0.002}
],
"icg":[
{"m":"HMC k=5","x":1,"y":0.0112,"e":0.0003},{"m":"HMC k=5","x":11,"y":0.00904,"e":0.0003},{"m":"HMC k=5","x":21,"y":0.0076,"e":0.0003},{"m":"HMC k=5","x":31,"y":0.00616,"e":0.0003},{"m":"HMC k=5","x":41,"y":0.00508,"e":0.0003},{"m":"HMC k=5","x":51,"y":0.00436,"e":0.0003},{"m":"HMC k=5","x":61,"y":0.004,"e":0.0003},{"m":"HMC k=5","x":71,"y":0.00357,"e":0.0003},{"m":"HMC k=5","x":81,"y":0.00329,"e":0.0003},{"m":"HMC k=5","x":91,"y":0.00305,"e":0.0003},{"m":"HMC k=5","x":101,"y":0.00281,"e":0.0003},{"m":"HMC k=5","x":111,"y":0.00264,"e":0.0003},{"m":"HMC k=5","x":121,"y":0.00249,"e":0.0003},{"m":"HMC k=5","x":131,"y":0.00233,"e":0.0003},{"m":"HMC k=5","x":141,"y":0.00221,"e":0.0003},{"m":"HMC k=5","x":151,"y":0.00209,"e":0.0003},{"m":"HMC k=5","x":161,"y":0.00197,"e":0.0003},{"m":"HMC k=5","x":171,"y":0.00185,"e":0.0003},{"m":"HMC k=5","x":181,"y":0.00177,"e":0.0003},{"m":"HMC k=5","x":191,"y":0.00168,"e":0.0003},{"m":"HMC k=5","x":201,"y":0.00156,"e":0.0003},
{"m":"MALA 0.1","x":1,"y":0.0105,"e":0.0005},{"m":"MALA 0.1","x":11,"y":0.0014,"e":0.0001},{"m":"MALA 0.1","x":21,"y":0.0006,"e":0.0001},{"m":"MALA 0.1","x":31,"y":0.00035,"e":0.0001},{"m":"MALA 0.1","x":41,"y":0.0002,"e":0.0001},{"m":"MALA 0.1","x":51,"y":0.00014,"e":0.0001},{"m":"MALA 0.1","x":61,"y":0.0001,"e":0.0001},{"m":"MALA 0.1","x":71,"y":0.0001,"e":0.0001},{"m":"MALA 0.1","x":81,"y":0.00005,"e":0.0001},{"m":"MALA 0.1","x":91,"y":0.00005,"e":0.0001},{"m":"MALA 0.1","x":101,"y":0.00005,"e":0.0001},{"m":"MALA 0.1","x":111,"y":0.00005,"e":0.0001},{"m":"MALA 0.1","x":121,"y":0.00005,"e":0.0001},{"m":"MALA 0.1","x":131,"y":0.00005,"e":0.0001},{"m":"MALA 0.1","x":141,"y":0.00005,"e":0.0001},{"m":"MALA 0.1","x":151,"y":0.00005,"e":0.0001},{"m":"MALA 0.1","x":161,"y":0.00005,"e":0.0001},{"m":"MALA 0.1","x":171,"y":0.00005,"e":0.0001},{"m":"MALA 0.1","x":181,"y":0.00005,"e":0.0001},{"m":"MALA 0.1","x":191,"y":0.00005,"e":0.0001},{"m":"MALA 0.1","x":201,"y":0.00005,"e":0.0001},
{"m":"MALA 0.01","x":1,"y":0.01048,"e":0.0005},{"m":"MALA 0.01","x":11,"y":0.01024,"e":0.0005},{"m":"MALA 0.01","x":21,"y":0.00976,"e":0.0005},{"m":"MALA 0.01","x":31,"y":0.0094,"e":0.0005},{"m":"MALA 0.01","x":41,"y":0.009,"e":0.0005},{"m":"MALA 0.01","x":51,"y":0.00861,"e":0.0005},{"m":"MALA 0.01","x":61,"y":0.0082,"e":0.0005},{"m":"MALA 0.01","x":71,"y":0.00791,"e":0.0005},{"m":"MALA 0.01","x":81,"y":0.00755,"e":0.0005},{"m":"MALA 0.01","x":91,"y":0.00724,"e":0.0005},{"m":"MALA 0.01","x":101,"y":0.007,"e":0.0005},{"m":"MALA 0.01","x":111,"y":0.00676,"e":0.0005},{"m":"MALA 0.01","x":121,"y":0.00652,"e":0.0005},{"m":"MALA 0.01","x":131,"y":0.00628,"e":0.0005},{"m":"MALA 0.01","x":141,"y":0.00604,"e":0.0005},{"m":"MALA 0.01","x":151,"y":0.00588,"e":0.0005},{"m":"MALA 0.01","x":161,"y":0.00568,"e":0.0005},{"m":"MALA 0.01","x":171,"y":0.00556,"e":0.0005},{"m":"MALA 0.01","x":181,"y":0.00544,"e":0.0005},{"m":"MALA 0.01","x":191,"y":0.00525,"e":0.0005},{"m":"MALA 0.01","x":201,"y":0.00508,"e":0.0005},
{"m":"ULA 0.1","x":1,"y":0.011,"e":0.0005},{"m":"ULA 0.1","x":11,"y":0.00137,"e":0.0001},{"m":"ULA 0.1","x":21,"y":0.0006,"e":0.0001},{"m":"ULA 0.1","x":31,"y":0.00036,"e":0.0001},{"m":"ULA 0.1","x":41,"y":0.00022,"e":0.0001},{"m":"ULA 0.1","x":51,"y":0.00014,"e":0.0001},{"m":"ULA 0.1","x":61,"y":0.0001,"e":0.0001},{"m":"ULA 0.1","x":71,"y":0.0001,"e":0.0001},{"m":"ULA 0.1","x":81,"y":0.00005,"e":0.0001},{"m":"ULA 0.1","x":91,"y":0.00005,"e":0.0001},{"m":"ULA 0.1","x":101,"y":0.00005,"e":0.0001},{"m":"ULA 0.1","x":111,"y":0.00005,"e":0.0001},{"m":"ULA 0.1","x":121,"y":0.00005,"e":0.0001},{"m":"ULA 0.1","x":131,"y":0.00005,"e":0.0001},{"m":"ULA 0.1","x":141,"y":0.00005,"e":0.0001},{"m":"ULA 0.1","x":151,"y":0.00005,"e":0.0001},{"m":"ULA 0.1","x":161,"y":0.00005,"e":0.0001},{"m":"ULA 0.1","x":171,"y":0.00005,"e":0.0001},{"m":"ULA 0.1","x":181,"y":0.00005,"e":0.0001},{"m":"ULA 0.1","x":191,"y":0.00005,"e":0.0001},{"m":"ULA 0.1","x":201,"y":0.00005,"e":0.0001},
{"m":"NH","x":1,"y":0.0105,"e":0.0003},{"m":"NH","x":11,"y":0.007,"e":0.0003},{"m":"NH","x":21,"y":0.00329,"e":0.0002},{"m":"NH","x":31,"y":0.0024,"e":0.0002},{"m":"NH","x":41,"y":0.00137,"e":0.0002},{"m":"NH","x":51,"y":0.00065,"e":0.0002},{"m":"NH","x":61,"y":0.00036,"e":0.0002},{"m":"NH","x":71,"y":0.00012,"e":0.0002},{"m":"NH","x":81,"y":0.00005,"e":0.0002},{"m":"NH","x":91,"y":0.00005,"e":0.0002},{"m":"NH","x":101,"y":0.00005,"e":0.0002},{"m":"NH","x":111,"y":0.00017,"e":0.0002},{"m":"NH","x":121,"y":0.00022,"e":0.0002},{"m":"NH","x":131,"y":0.00036,"e":0.0002},{"m":"NH","x":141,"y":0.00065,"e":0.0002},{"m":"NH","x":151,"y":0.0005,"e":0.0002},{"m":"NH","x":161,"y":0.00041,"e":0.0002},{"m":"NH","x":171,"y":0.00048,"e":0.0002},{"m":"NH","x":181,"y":0.00038,"e":0.0002},{"m":"NH","x":191,"y":0.00036,"e":0.0002},{"m":"NH","x":201,"y":0.00036,"e":0.0002},
{"m":"NUTS","x":1,"y":0.01132,"e":0.0003},{"m":"NUTS","x":11,"y":0.00892,"e":0.0003},{"m":"NUTS","x":21,"y":0.0056,"e":0.0004},{"m":"NUTS","x":31,"y":0.0056,"e":0.0006},{"m":"NUTS","x":41,"y":0.00125,"e":0.0002},{"m":"NUTS","x":51,"y":0.00089,"e":0.0002},{"m":"NUTS","x":61,"y":0.00089,"e":0.0002},{"m":"NUTS","x":71,"y":0.00029,"e":0.0001},{"m":"NUTS","x":81,"y":0.00024,"e":0.0001},{"m":"NUTS","x":91,"y":0.00024,"e":0.0001},{"m":"NUTS","x":101,"y":0.00012,"e":0.0001},{"m":"NUTS","x":111,"y":0.0001,"e":0.0001},{"m":"NUTS","x":121,"y":0.0001,"e":0.0001},{"m":"NUTS","x":131,"y":0.0001,"e":0.0001},{"m":"NUTS","x":141,"y":0.0001,"e":0.0001},{"m":"NUTS","x":151,"y":0.0001,"e":0.0001},{"m":"NUTS","x":161,"y":0.0001,"e":0.0001},{"m":"NUTS","x":171,"y":0.0001,"e":0.0001},{"m":"NUTS","x":181,"y":0.0001,"e":0.0001},{"m":"NUTS","x":191,"y":0.0001,"e":0.0001},{"m":"NUTS","x":201,"y":0.0001,"e":0.0001},
{"m":"ESH-leap","x":1,"y":0.0108,"e":0.0003},{"m":"ESH-leap","x":11,"y":0.00808,"e":0.0003},{"m":"ESH-leap","x":21,"y":0.00424,"e":0.0003},{"m":"ESH-leap","x":31,"y":0.00293,"e":0.0003},{"m":"ESH-leap","x":41,"y":0.00168,"e":0.0003},{"m":"ESH-leap","x":51,"y":0.00113,"e":0.0003},{"m":"ESH-leap","x":61,"y":0.00072,"e":0.0003},{"m":"ESH-leap","x":71,"y":0.00041,"e":0.0003},{"m":"ESH-leap","x":81,"y":0.00024,"e":0.0003},{"m":"ESH-leap","x":91,"y":0.00017,"e":0.0003},{"m":"ESH-leap","x":101,"y":0.0001,"e":0.0003},{"m":"ESH-leap","x":111,"y":0.0001,"e":0.0003},{"m":"ESH-leap","x":121,"y":0.0001,"e":0.0003},{"m":"ESH-leap","x":131,"y":0.0001,"e":0.0003},{"m":"ESH-leap","x":141,"y":0.0001,"e":0.0003},{"m":"ESH-leap","x":151,"y":0.0001,"e":0.0003},{"m":"ESH-leap","x":161,"y":0.0001,"e":0.0003},{"m":"ESH-leap","x":171,"y":0.0001,"e":0.0003},{"m":"ESH-leap","x":181,"y":0.0001,"e":0.0003},{"m":"ESH-leap","x":191,"y":0.0001,"e":0.0003},{"m":"ESH-leap","x":201,"y":0.0001,"e":0.0003}
]
},
"vconcat":[
{"hconcat":[
{"title":{"text":"2D MOG","offset":12},"width":266,"height":182,"data":{"name":"mog"},
 "encoding":{"x":{"field":"x","type":"quantitative","scale":{"domain":[-9,211],"nice":false,"zero":false},"axis":{"values":[0,25,50,75,100,125,150,175,200],"title":"# gradient evaluations"}},
  "y":{"field":"y","type":"quantitative","scale":{"domain":[-0.0116,0.1553],"nice":false,"zero":false},"axis":{"values":[0,0.02,0.04,0.06,0.08,0.1,0.12,0.14],"format":".2f","title":"MMD"}},
  "color":{"field":"m","type":"nominal","scale":{"domain":["HMC k=5","MALA 0.1","MALA 0.01","ULA 0.1","NH","NUTS","ESH-leap"],"range":["#1f77b4","#ff7f0e","#2ca02c","#d62728","#9467bd","#8c564b","#e377c2"]}}},
 "layer":[{"mark":{"type":"line","strokeWidth":1.5,"clip":true}},{"mark":{"type":"errorbar","thickness":1.5,"clip":true},"encoding":{"yError":{"field":"e"}}}]},
{"title":{"text":"2D MOG-Prior","offset":10},"width":261,"height":182,"data":{"name":"prior"},
 "encoding":{"x":{"field":"x","type":"quantitative","scale":{"domain":[-9,211],"nice":false,"zero":false},"axis":{"values":[0,25,50,75,100,125,150,175,200],"title":"# gradient evaluations"}},
  "y":{"field":"y","type":"quantitative","scale":{"domain":[-0.012,0.2141],"nice":false,"zero":false},"axis":{"values":[0,0.025,0.05,0.075,0.1,0.125,0.15,0.175,0.2],"format":".3f","title":"MMD"}},
  "color":{"field":"m","type":"nominal","scale":{"domain":["HMC k=5","MALA 0.1","MALA 0.01","ULA 0.1","NH","NUTS","ESH-leap"],"range":["#1f77b4","#ff7f0e","#2ca02c","#d62728","#9467bd","#8c564b","#e377c2"]}}},
 "layer":[{"mark":{"type":"line","strokeWidth":1.5,"clip":true}},{"mark":{"type":"errorbar","thickness":1.5,"clip":true},"encoding":{"yError":{"field":"e"}}}]},
{"title":{"text":"2D SCG","offset":12},"width":266,"height":181,"data":{"name":"scg"},
 "encoding":{"x":{"field":"x","type":"quantitative","scale":{"domain":[-9,211],"nice":false,"zero":false},"axis":{"values":[0,25,50,75,100,125,150,175,200],"title":"# gradient evaluations"}},
  "y":{"field":"y","type":"quantitative","scale":{"domain":[-0.0087,0.116],"nice":false,"zero":false},"axis":{"values":[0,0.02,0.04,0.06,0.08,0.1],"format":".2f","title":"MMD"}},
  "color":{"field":"m","type":"nominal","scale":{"domain":["HMC k=5","MALA 0.1","MALA 0.01","ULA 0.1","NH","NUTS","ESH-leap"],"range":["#1f77b4","#ff7f0e","#2ca02c","#d62728","#9467bd","#8c564b","#e377c2"]}}},
 "layer":[{"mark":{"type":"line","strokeWidth":1.5,"clip":true}},{"mark":{"type":"errorbar","thickness":1.5,"clip":true},"encoding":{"yError":{"field":"e"}}}]}
],"spacing":40},
{"hconcat":[
{"title":{"text":"2D SCG-Bias","offset":18},"width":266,"height":183,"data":{"name":"bias"},
 "encoding":{"x":{"field":"x","type":"quantitative","scale":{"domain":[-9,211],"nice":false,"zero":false},"axis":{"values":[0,25,50,75,100,125,150,175,200],"title":"# gradient evaluations"}},
  "y":{"field":"y","type":"quantitative","scale":{"domain":[-0.0105,0.1698],"nice":false,"zero":false},"axis":{"values":[0,0.02,0.04,0.06,0.08,0.1,0.12,0.14,0.16],"format":".2f","title":"MMD"}},
  "color":{"field":"m","type":"nominal","scale":{"domain":["HMC k=5","MALA 0.1","MALA 0.01","ULA 0.1","NH","NUTS","ESH-leap"],"range":["#1f77b4","#ff7f0e","#2ca02c","#d62728","#9467bd","#8c564b","#e377c2"]}}},
 "layer":[{"mark":{"type":"line","strokeWidth":1.5,"clip":true}},{"mark":{"type":"errorbar","thickness":1.5,"clip":true},"encoding":{"yError":{"field":"e"}}}]},
{"title":{"text":"50D ICG","offset":18},"width":261,"height":183,"data":{"name":"icg"},
 "encoding":{"x":{"field":"x","type":"quantitative","scale":{"domain":[-9,211],"nice":false,"zero":false},"axis":{"values":[0,25,50,75,100,125,150,175,200],"title":"# gradient evaluations"}},
  "y":{"field":"y","type":"quantitative","scale":{"domain":[-0.00091,0.01228],"nice":false,"zero":false},"axis":{"values":[0,0.002,0.004,0.006,0.008,0.01],"format":".3f","title":"MMD"}},
  "color":{"field":"m","type":"nominal","scale":{"domain":["HMC k=5","MALA 0.1","MALA 0.01","ULA 0.1","NH","NUTS","ESH-leap"],"range":["#1f77b4","#ff7f0e","#2ca02c","#d62728","#9467bd","#8c564b","#e377c2"]}}},
 "layer":[{"mark":{"type":"line","strokeWidth":1.5,"clip":true}},{"mark":{"type":"errorbar","thickness":1.5,"clip":true},"encoding":{"yError":{"field":"e"}}}]}
],"spacing":40}
],
"spacing":20
}
